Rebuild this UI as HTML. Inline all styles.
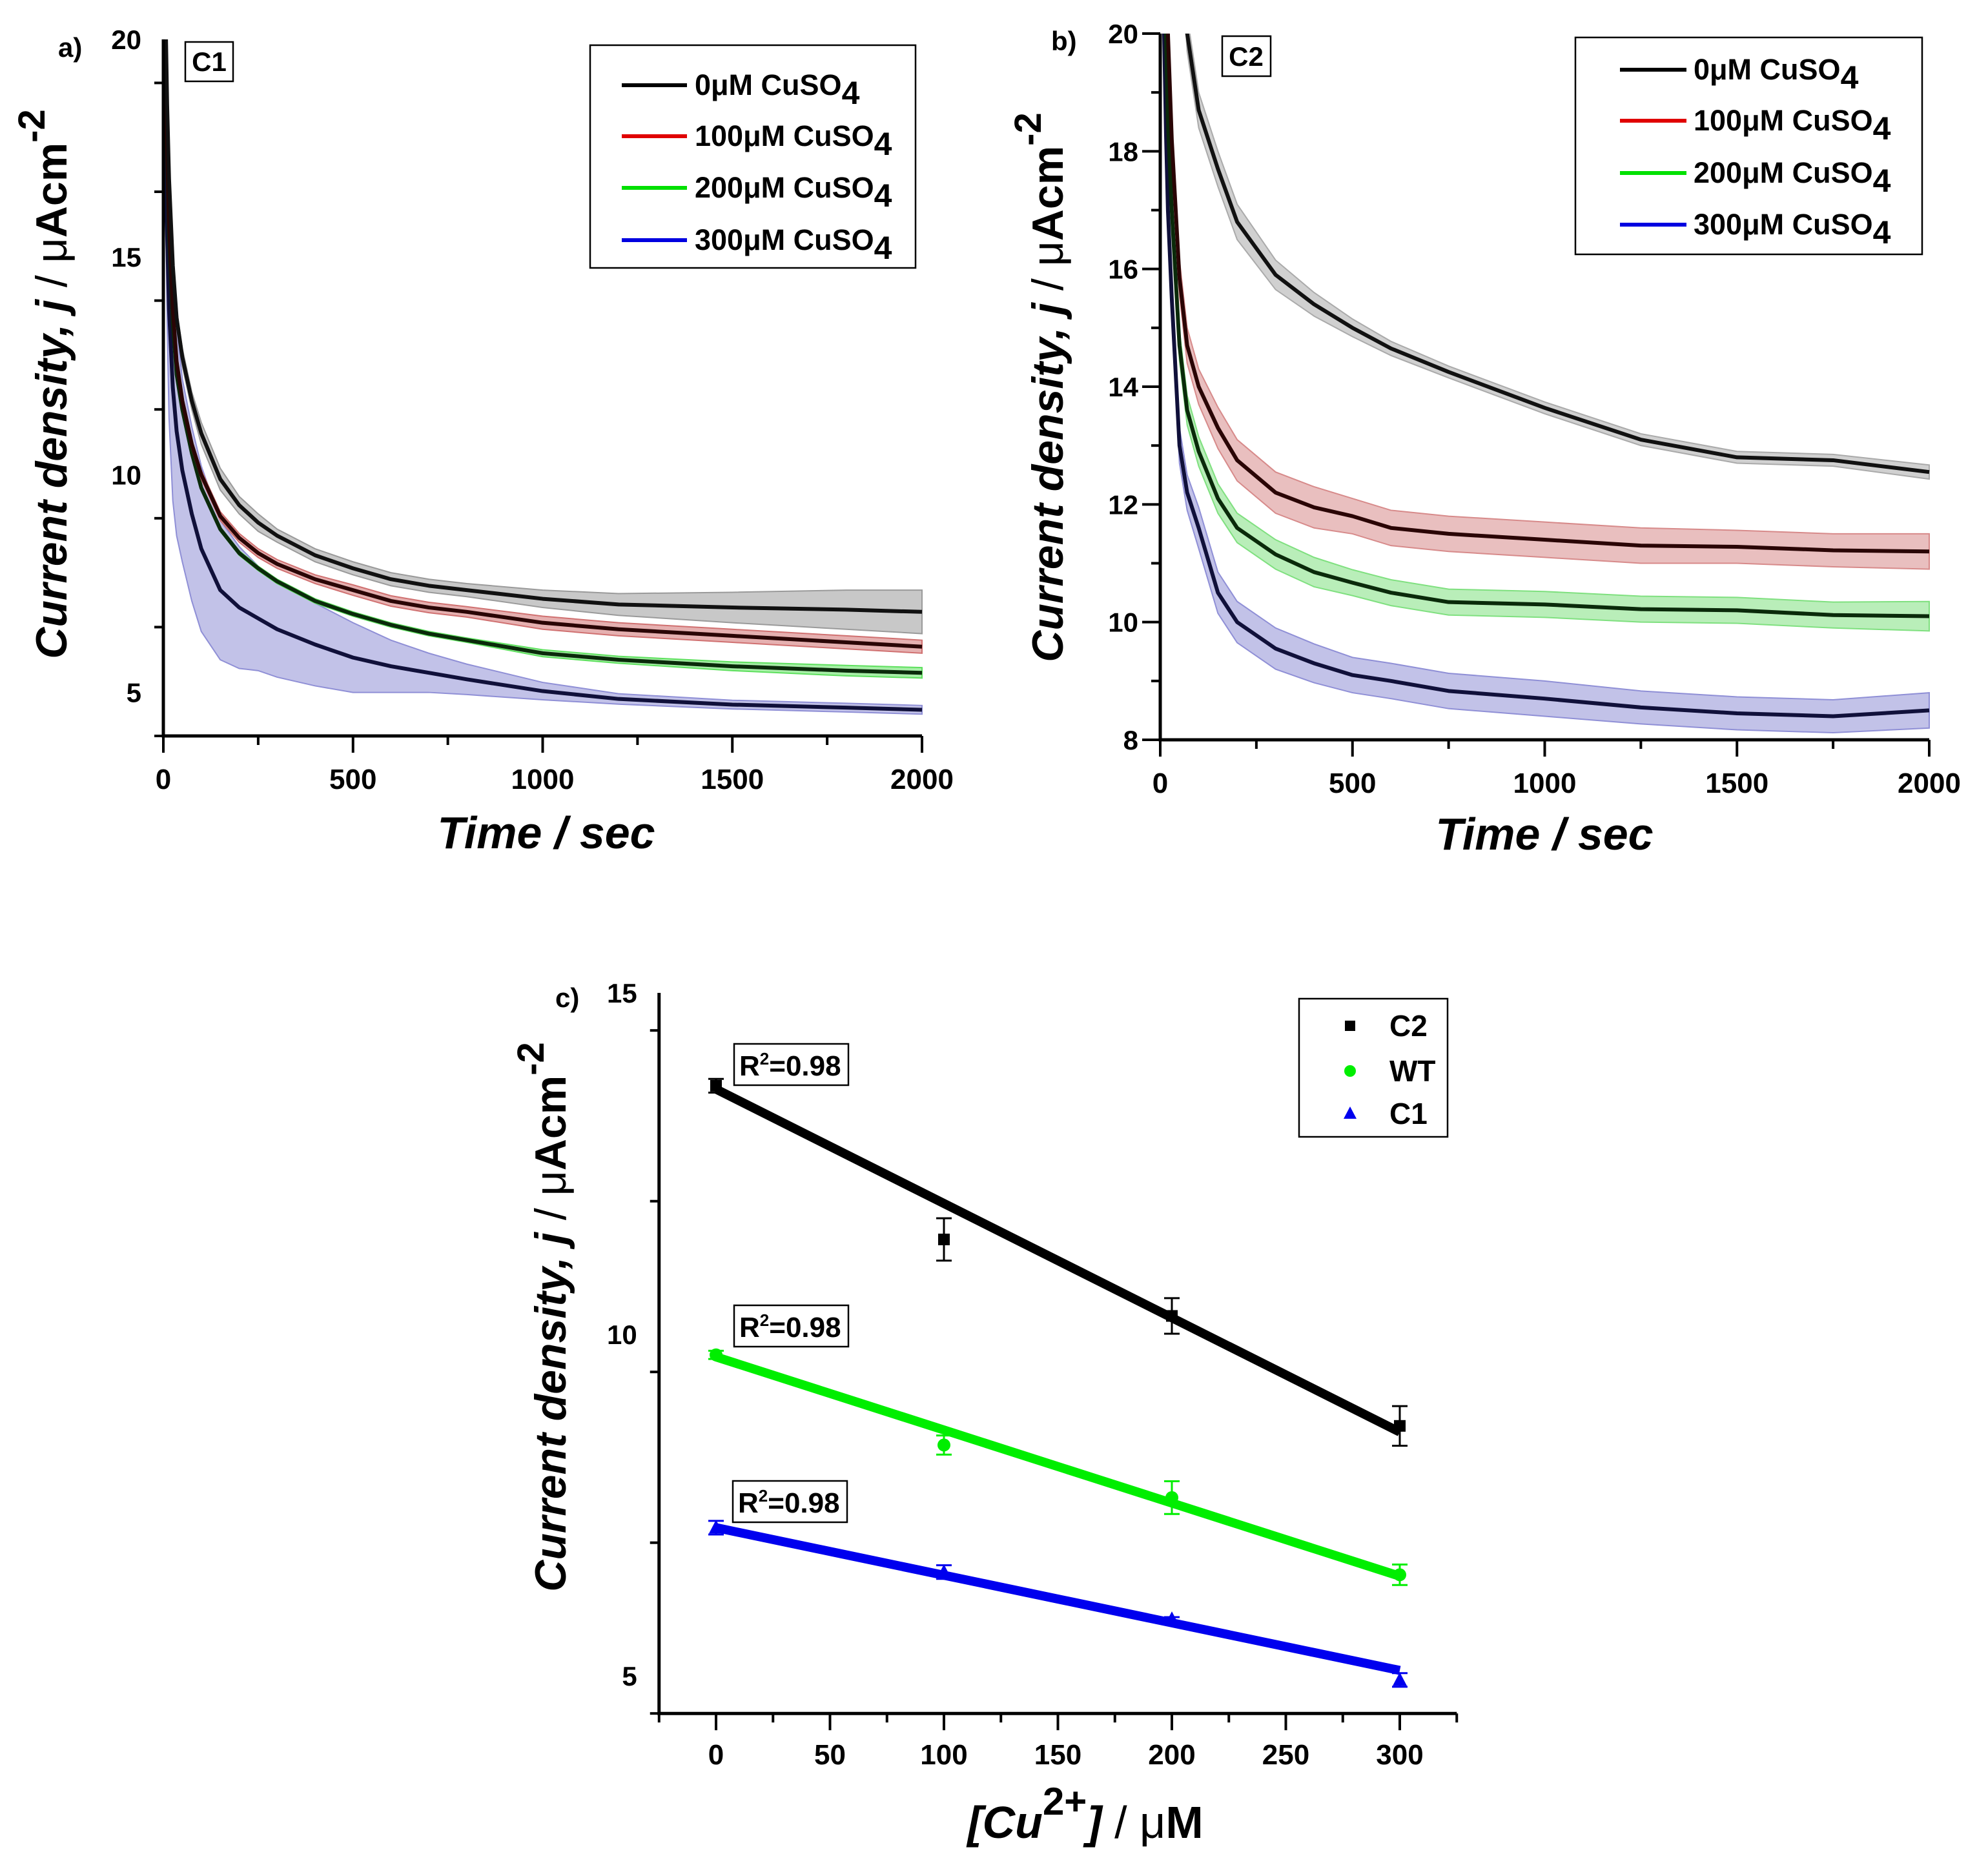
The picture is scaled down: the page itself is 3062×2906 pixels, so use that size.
<!DOCTYPE html>
<html><head><meta charset="utf-8"><style>
html,body{margin:0;padding:0;background:#fff}
svg{display:block}
text{font-family:"Liberation Sans",Arial,sans-serif}
</style></head><body>
<svg id="fig" width="3062" height="2906" viewBox="0 0 3062 2906" xmlns="http://www.w3.org/2000/svg">
<rect width="3062" height="2906" fill="#fff"/>
<g id="pa"></g>
<g id="pb"></g>
<g id="pc"></g>
</svg>
<script>
// ---- Panel a data (C1) ----
const aTimes = [0,5,10,15,25,35,50,75,100,150,200,250,300,400,500,600,700,800,1000,1200,1500,1800,2000];
const a0 = [24,21,18.5,16.8,14.8,13.6,12.7,11.7,10.95,9.9,9.3,8.9,8.6,8.15,7.85,7.6,7.45,7.35,7.15,7.02,6.95,6.9,6.85];
const a100 = [24,20,17.5,15.8,13.8,12.6,11.7,10.7,10.0,9.05,8.55,8.2,7.95,7.6,7.35,7.1,6.95,6.85,6.6,6.45,6.3,6.15,6.05];
const a200 = [24,20,17.3,15.5,13.5,12.3,11.5,10.5,9.7,8.75,8.2,7.85,7.55,7.1,6.8,6.55,6.35,6.2,5.9,5.75,5.6,5.5,5.45];
const a300 = [24,18,15.5,13.8,12.0,11.0,10.1,9.1,8.3,7.35,6.95,6.7,6.45,6.1,5.8,5.6,5.45,5.3,5.03,4.85,4.72,4.65,4.6];
const aErr0 = [0.2,0.2,0.2,0.2,0.2,0.2,0.2,0.2,0.25,0.25,0.2,0.2,0.15,0.15,0.15,0.15,0.15,0.15,0.2,0.25,0.35,0.45,0.5];
const aErr100 = [0.1,0.1,0.1,0.1,0.1,0.1,0.1,0.1,0.1,0.1,0.1,0.1,0.1,0.1,0.12,0.12,0.12,0.12,0.15,0.15,0.15,0.15,0.15];
const aErr200 = [0.05,0.05,0.05,0.05,0.05,0.05,0.05,0.05,0.05,0.05,0.05,0.05,0.05,0.05,0.05,0.05,0.05,0.05,0.08,0.08,0.1,0.12,0.12];
const aErr300 = [0.5,1,2,2.5,2.6,2.4,2.1,2.0,1.9,1.6,1.4,1.2,1.1,0.95,0.8,0.6,0.45,0.35,0.2,0.12,0.1,0.1,0.1];
// ---- Panel b data (C2) ----
const bTimes = [0,10,15,20,30,50,70,100,150,200,300,400,500,600,750,1000,1250,1500,1750,2000];
const b0 = [30,28,27,26,24,22,20,18.7,17.7,16.8,15.9,15.4,15.0,14.65,14.25,13.64,13.1,12.8,12.75,12.55];
const b100 = [30,24,22,20,18.2,15.85,14.7,14.0,13.3,12.75,12.2,11.95,11.8,11.6,11.5,11.4,11.3,11.28,11.22,11.2];
const b200 = [30,22,20,18.5,17,14.7,13.6,12.9,12.1,11.6,11.15,10.85,10.67,10.5,10.34,10.3,10.22,10.2,10.12,10.1];
const b300 = [30,20,18.3,17,15.5,13.0,12.2,11.6,10.5,10.0,9.55,9.3,9.1,9.0,8.83,8.7,8.55,8.45,8.4,8.5];
const bErr0 = [0.3,0.3,0.3,0.3,0.3,0.3,0.3,0.3,0.3,0.3,0.25,0.2,0.15,0.12,0.1,0.1,0.1,0.1,0.1,0.12];
const bErr100 = [0.3,0.3,0.3,0.3,0.3,0.3,0.3,0.3,0.35,0.35,0.35,0.35,0.3,0.3,0.3,0.3,0.3,0.28,0.28,0.3];
const bErr200 = [0.25,0.25,0.25,0.25,0.25,0.25,0.25,0.25,0.25,0.25,0.25,0.25,0.22,0.22,0.22,0.22,0.22,0.22,0.22,0.25];
const bErr300 = [0.3,0.3,0.3,0.3,0.3,0.3,0.3,0.35,0.35,0.35,0.35,0.33,0.3,0.3,0.3,0.3,0.28,0.28,0.28,0.3];
// ---- Panel c data ----
const cConc = [0,100,200,300];
const cC2 = [13.64,11.39,10.27,8.66];
const cC2Err = [0.1,0.31,0.26,0.29];
const cWT = [9.70,8.38,7.61,6.48];
const cWTErr = [0.06,0.14,0.24,0.15];
const cC1 = [7.17,6.52,5.83,4.94];
const cC1Err = [0.1,0.1,0.03,0.1];
const cFitConc = [0,300];
const cC2Fit = [13.59,8.57];
const cWTFit = [9.67,6.46];
const cC1Fit = [7.17,5.08];
const cR2 = ["R²=0.98","R²=0.98","R²=0.98"];
const aYTicks = [5,10,15,20];
const bYTicks = [8,10,12,14,16,18,20];
const abXTicks = [0,500,1000,1500,2000];
const cXTicks = [0,50,100,150,200,250,300];
const cYTicks = [5,10,15];

const NS = "http://www.w3.org/2000/svg";
function mk(parent, tag, attrs, txt){
  const e = document.createElementNS(NS, tag);
  for (const k in attrs) e.setAttribute(k, attrs[k]);
  if (txt !== undefined) e.textContent = txt;
  parent.appendChild(e);
  return e;
}
function scale(d0,d1,r0,r1){ return v => r0 + (v-d0)*(r1-r0)/(d1-d0); }

function axes(g, sx, sy, xr, yr, xMaj, xMin, yMaj, yMin, xLabY){
  const x0 = sx(xr[0]), x1 = sx(xr[1]), y0 = sy(yr[0]), y1 = sy(yr[1]);
  const ax = mk(g,'path',{d:`M${x0},${y1} L${x0},${y0} L${x1},${y0}`,fill:'none',stroke:'#000','stroke-width':5});
  
  
  for (let v = xr[0]; v <= xr[1]+1e-9; v += xMin){
    const maj = xMaj.some(m=>Math.abs(m-v)<1e-6);
    const t = mk(g,'line',{x1:sx(v),x2:sx(v),y1:y0,y2:y0+(maj?26:14),stroke:'#000','stroke-width':4});
    
    
  }
  for (const v of xMaj){
    const t = mk(g,'text',{x:sx(v),y:xLabY,'text-anchor':'middle','font-size':44,'font-weight':'bold'},String(v));
    
    
  }
  for (let v = yr[0]; v <= yr[1]+1e-9; v += yMin){
    const maj = yMaj.some(m=>Math.abs(m-v)<1e-6);
    const t = mk(g,'line',{x1:x0,x2:x0-(maj?28:14),y1:sy(v),y2:sy(v),stroke:'#000','stroke-width':4});
    
    
  }
  for (const v of yMaj){
    const t = mk(g,'text',{x:x0-34,y:sy(v)+15,'text-anchor':'end','font-size':42,'font-weight':'bold'},String(v));
    
    
  }
}
function yTitle(g, x, y){
  const t = mk(g,'text',{transform:`translate(${x},${y}) rotate(-90)`,'text-anchor':'middle','font-size':68,'font-weight':'bold'});
  
  
  mk(t,'tspan',{'font-style':'italic'},'Current density, ');
  mk(t,'tspan',{'font-style':'italic'},'j');
  mk(t,'tspan',{'font-weight':'normal'},' / μ');
  mk(t,'tspan',{},'Acm');
  mk(t,'tspan',{dy:-34,'font-size':58},'-2');
}
function xTitleTime(g, x, y){
  const t = mk(g,'text',{x:x,y:y,'text-anchor':'middle','font-size':70,'font-weight':'bold','font-style':'italic'},'Time / sec');
  
  
}
function clipRect(g, id, x, y, w, h){
  const c = mk(g,'clipPath',{id:id});
  mk(c,'rect',{x:x,y:y,width:w,height:h});
}
function series(g, sx, sy, ts, vs, es, bandColor, lineColor, clip, name){
  const sg = mk(g,'g',{'clip-path':`url(#${clip})`});
  
  
  let up = [], dn = [];
  for (let i=0;i<ts.length;i++){ up.push(`${sx(ts[i])},${sy(vs[i]+es[i])}`); dn.unshift(`${sx(ts[i])},${sy(vs[i]-es[i])}`); }
  const band = mk(sg,'polygon',{points:up.concat(dn).join(' '),fill:bandColor,'fill-opacity':0.55,stroke:bandColor,'stroke-width':2});
  
  
  const pts = ts.map((t,i)=>`${sx(t)},${sy(vs[i])}`).join(' ');
  const ln = mk(sg,'polyline',{points:pts,fill:'none',stroke:lineColor,'stroke-width':6,'stroke-linejoin':'round'});
  
  
}
function legendCuSO4(g, x, y, w, h, rows, lx0, lx1, tx, colors, labels){
  const b = mk(g,'rect',{x:x,y:y,width:w,height:h,fill:'#fff',stroke:'#000','stroke-width':2.5});
  
  
  for (let i=0;i<rows.length;i++){
    const l = mk(g,'line',{x1:lx0,x2:lx1,y1:rows[i],y2:rows[i],stroke:colors[i],'stroke-width':6});
    
    
    const t = mk(g,'text',{x:tx,y:rows[i]+15,'font-size':45,'font-weight':'bold'});
    
    
    mk(t,'tspan',{},labels[i]+'μM CuSO');
    mk(t,'tspan',{dy:14,'font-size':50},'4');
  }
}
const legLabels = ['0','100','200','300'];
const legColors = ['#000','#e00000','#00e000','#0000e0'];

// ================= Panel a =================
(function(){
  const g = document.getElementById('pa');
  const sx = scale(0,2000,253,1428), sy = scale(4,20,1140,61);
  clipRect(g,'clipA',253,61,1180,1080);
  series(g,sx,sy,aTimes,a300,aErr300,'#8f8fd6','#10103a','clipA','series-300uM');
  series(g,sx,sy,aTimes,a200,aErr200,'#5ee05e','#0a2a0a','clipA','series-200uM');
  series(g,sx,sy,aTimes,a100,aErr100,'#d07070','#2a0505','clipA','series-100uM');
  series(g,sx,sy,aTimes,a0,aErr0,'#9a9a9a','#111','clipA','series-0uM');
  axes(g,sx,sy,[0,2000],[4,20],abXTicks,250,aYTicks,2.5,1222);
  yTitle(g,103,595);
  xTitleTime(g,846,1314);
  const lab = mk(g,'text',{x:90,y:88,'font-size':42,'font-weight':'bold'},'a)');
  
  
  const cb = mk(g,'rect',{x:287,y:65,width:74,height:61,fill:'#fff',stroke:'#000','stroke-width':2.5});
  
  
  const ct = mk(g,'text',{x:324,y:110,'text-anchor':'middle','font-size':42,'font-weight':'bold'},'C1');
  
  
  legendCuSO4(g,914,70,504,345,[132,211,291,372],963,1064,1076,legColors,legLabels);
})();

// ================= Panel b =================
(function(){
  const g = document.getElementById('pb');
  const sx = scale(0,2000,1797,2988), sy = scale(8,20,1146,52);
  clipRect(g,'clipB',1797,52,1195,1094);
  series(g,sx,sy,bTimes,b300,bErr300,'#8f8fd6','#10103a','clipB','series-300uM');
  series(g,sx,sy,bTimes,b200,bErr200,'#7fe07f','#0a2a0a','clipB','series-200uM');
  series(g,sx,sy,bTimes,b100,bErr100,'#d78a8a','#2a0505','clipB','series-100uM');
  series(g,sx,sy,bTimes,b0,bErr0,'#aaaaaa','#111','clipB','series-0uM');
  axes(g,sx,sy,[0,2000],[8,20],abXTicks,250,bYTicks,1,1228);
  yTitle(g,1646,600);
  xTitleTime(g,2392,1316);
  const lab = mk(g,'text',{x:1628,y:78,'font-size':42,'font-weight':'bold'},'b)');
  
  
  const cb = mk(g,'rect',{x:1893,y:56,width:75,height:62,fill:'#fff',stroke:'#000','stroke-width':2.5});
  
  
  const ct = mk(g,'text',{x:1930,y:102,'text-anchor':'middle','font-size':42,'font-weight':'bold'},'C2');
  
  
  legendCuSO4(g,2440,58,537,336,[108,187,268,348],2509,2612,2623,legColors,legLabels);
})();

// ================= Panel c =================
(function(){
  const g = document.getElementById('pc');
  const sx = scale(0,300,1109,2168), sy = scale(5,15,2596,1538);
  axes(g,sx,sy,[-25,325],[4.45,15],cXTicks,25,cYTicks,2.5,2733);
  const groups = [
    {v:cC2,e:cC2Err,f:cC2Fit,c:'#000',n:'C2',shape:'square'},
    {v:cWT,e:cWTErr,f:cWTFit,c:'#00ee00',n:'WT',shape:'circle'},
    {v:cC1,e:cC1Err,f:cC1Fit,c:'#0000ee',n:'C1',shape:'triangle'}
  ];
  for (const gr of groups){
    const sg = mk(g,'g',{});
    
    
    const fl = mk(sg,'line',{x1:sx(cFitConc[0]),y1:sy(gr.f[0]),x2:sx(cFitConc[1]),y2:sy(gr.f[1]),stroke:gr.c,'stroke-width':14});
    
    
    for (let i=0;i<cConc.length;i++){
      const x = sx(cConc[i]), y = sy(gr.v[i]), yt = sy(gr.v[i]+gr.e[i]), yb = sy(gr.v[i]-gr.e[i]);
      const eb = mk(sg,'path',{d:`M${x},${yt}V${yb}M${x-12},${yt}H${x+12}M${x-12},${yb}H${x+12}`,stroke:gr.c,'stroke-width':3,fill:'none'});
      
      
      let mkr;
      if (gr.shape==='square') mkr = mk(sg,'rect',{x:x-9,y:y-9,width:18,height:18,fill:gr.c});
      else if (gr.shape==='circle') mkr = mk(sg,'circle',{cx:x,cy:y,r:10,fill:gr.c});
      else mkr = mk(sg,'polygon',{points:`${x},${y-12} ${x-11},${y+9} ${x+11},${y+9}`,fill:gr.c});
      
      
    }
  }
  const boxes = [[1137,1617],[1137,2022],[1135,2294]];
  for (let i=0;i<boxes.length;i++){
    const [bx,by] = boxes[i];
    const r = mk(g,'rect',{x:bx,y:by,width:177,height:64,fill:'#fff',stroke:'#000','stroke-width':2.5});
    
    
    const t = mk(g,'text',{x:bx+8,y:by+49,'font-size':44,'font-weight':'bold'});
    
    
    mk(t,'tspan',{},cR2[i].slice(0,1));
    mk(t,'tspan',{dy:-17,'font-size':26},'2');
    mk(t,'tspan',{dy:17},cR2[i].slice(2));
  }
  const lb = mk(g,'rect',{x:2012,y:1547,width:230,height:214,fill:'#fff',stroke:'#000','stroke-width':2.5});
  
  
  const ly = [1589,1659,1725];
  for (let i=0;i<3;i++){
    const gr = groups[i], x=2091, y=ly[i];
    let mkr;
    if (gr.shape==='square') mkr = mk(g,'rect',{x:x-8,y:y-8,width:16,height:16,fill:gr.c});
    else if (gr.shape==='circle') mkr = mk(g,'circle',{cx:x,cy:y,r:9,fill:gr.c});
    else mkr = mk(g,'polygon',{points:`${x},${y-11} ${x-10},${y+8} ${x+10},${y+8}`,fill:gr.c});
    
    
    const t = mk(g,'text',{x:2152,y:y+16,'font-size':46,'font-weight':'bold'},gr.n);
    
    
  }
  yTitle(g,876,2040);
  const lab = mk(g,'text',{x:860,y:1560,'font-size':42,'font-weight':'bold'},'c)');
  
  
  const xt = mk(g,'text',{x:1681,y:2847,'text-anchor':'middle','font-size':70,'font-weight':'bold'});
  
  
  mk(xt,'tspan',{'font-style':'italic'},'[Cu');
  mk(xt,'tspan',{dy:-36,'font-size':60},'2+');
  mk(xt,'tspan',{dy:36,'font-style':'italic'},']');
  mk(xt,'tspan',{'font-weight':'normal'},' / μ');
  mk(xt,'tspan',{},'M');
})();
</script>
</body></html>
